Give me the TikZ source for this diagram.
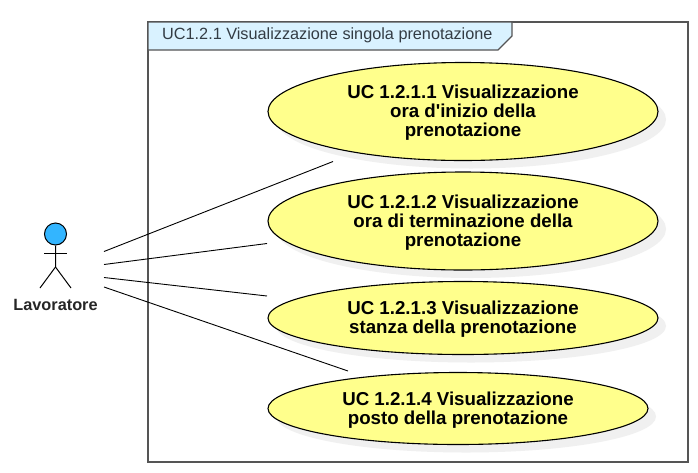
\documentclass[tikz,border=0pt]{standalone}
\usepackage{fontspec}
\setmainfont{Liberation Sans}
\usetikzlibrary{shapes.geometric}
\font\ucraw="Liberation Sans/B" at 18.7pt
\newcommand{\ucdrop}{\rule{0pt}{16.6pt}}
\definecolor{ucfill}{HTML}{FFFF8C}
\definecolor{tabfill}{HTML}{D9F2FF}
\definecolor{shadowc}{HTML}{F0F0F0}
\definecolor{headc}{HTML}{33B5FF}
\definecolor{framec}{HTML}{555555}
\definecolor{titlec}{HTML}{333C44}
\tikzset{
  usecase/.style={ellipse,draw=black,fill=ucfill,line width=1.1pt,inner sep=0pt,
    align=center,font=\fontsize{18.7}{19}\selectfont\ucraw},
  ucshadow/.style={ellipse,fill=shadowc,inner sep=0pt},
  assoc/.style={draw=black,line width=0.9pt},
  actorline/.style={draw=black,line width=1pt},
}
\begin{document}
\begin{tikzpicture}[x=1pt,y=-1pt]
\useasboundingbox (0,0) rectangle (698,472);
\fill[white] (0,0) rectangle (698,472);
% frame
\draw[framec,line width=1.2pt,fill=white] (148,22) rectangle (688,462);
\draw[framec,line width=1.2pt,fill=tabfill] (148,22) -- (512,22) -- (512,36) -- (498,50) -- (148,50) -- cycle;
\node[anchor=west,inner sep=0pt,text=titlec,font=\fontsize{16.25}{18}\selectfont] (title) at (162,35) {UC1.2.1 Visualizzazione singola prenotazione};
% shadows
\node[ucshadow,minimum width=390pt,minimum height=98pt] (s1) at (471,119.5) {};
\node[ucshadow,minimum width=390pt,minimum height=98pt] (s2) at (471,229) {};
\node[ucshadow,minimum width=390pt,minimum height=73pt] (s3) at (471,326) {};
\node[ucshadow,minimum width=380pt,minimum height=72pt] (s4) at (466,416.5) {};
% use cases
\node[usecase,minimum width=390pt,minimum height=98pt] (u1) at (463,111.5) {\ucdrop UC 1.2.1.1 Visualizzazione\\ora d'inizio della\\prenotazione};
\node[usecase,minimum width=390pt,minimum height=98pt] (u2) at (463,221) {\ucdrop UC 1.2.1.2 Visualizzazione\\ora di terminazione della\\prenotazione};
\node[usecase,minimum width=390pt,minimum height=73pt] (u3) at (463,318) {\ucdrop UC 1.2.1.3 Visualizzazione\\stanza della prenotazione};
\node[usecase,minimum width=380pt,minimum height=72pt] (u4) at (458,408.5) {\ucdrop UC 1.2.1.4 Visualizzazione\\posto della prenotazione};
% actor
\node[circle,draw=black,fill=headc,line width=1pt,minimum size=22pt,inner sep=0pt] (head) at (55.5,234) {};
\coordinate (hip) at (55.5,267);
\coordinate (armL) at (44,253);
\coordinate (armR) at (67,253);
\coordinate (legL) at (40,288);
\coordinate (legR) at (71,288);
\draw[actorline] (head.south) -- (hip) -- (legL);
\draw[actorline] (hip) -- (legR);
\draw[actorline] (armL) -- (armR);
\node[font=\fontsize{16.3}{18}\selectfont\bfseries,text=black!85,inner sep=0pt] (actorlabel) at (55.5,305) {Lavoratore};
% connectors
\coordinate (a1) at (104,251.5); \coordinate (b1) at (333,161.5);
\coordinate (a2) at (104,264.5); \coordinate (b2) at (267,243.5);
\coordinate (a3) at (104,277.5); \coordinate (b3) at (267,296);
\coordinate (a4) at (104,287); \coordinate (b4) at (348,371);
\draw[assoc] (a1) -- (b1);
\draw[assoc] (a2) -- (b2);
\draw[assoc] (a3) -- (b3);
\draw[assoc] (a4) -- (b4);
\end{tikzpicture}
\end{document}
